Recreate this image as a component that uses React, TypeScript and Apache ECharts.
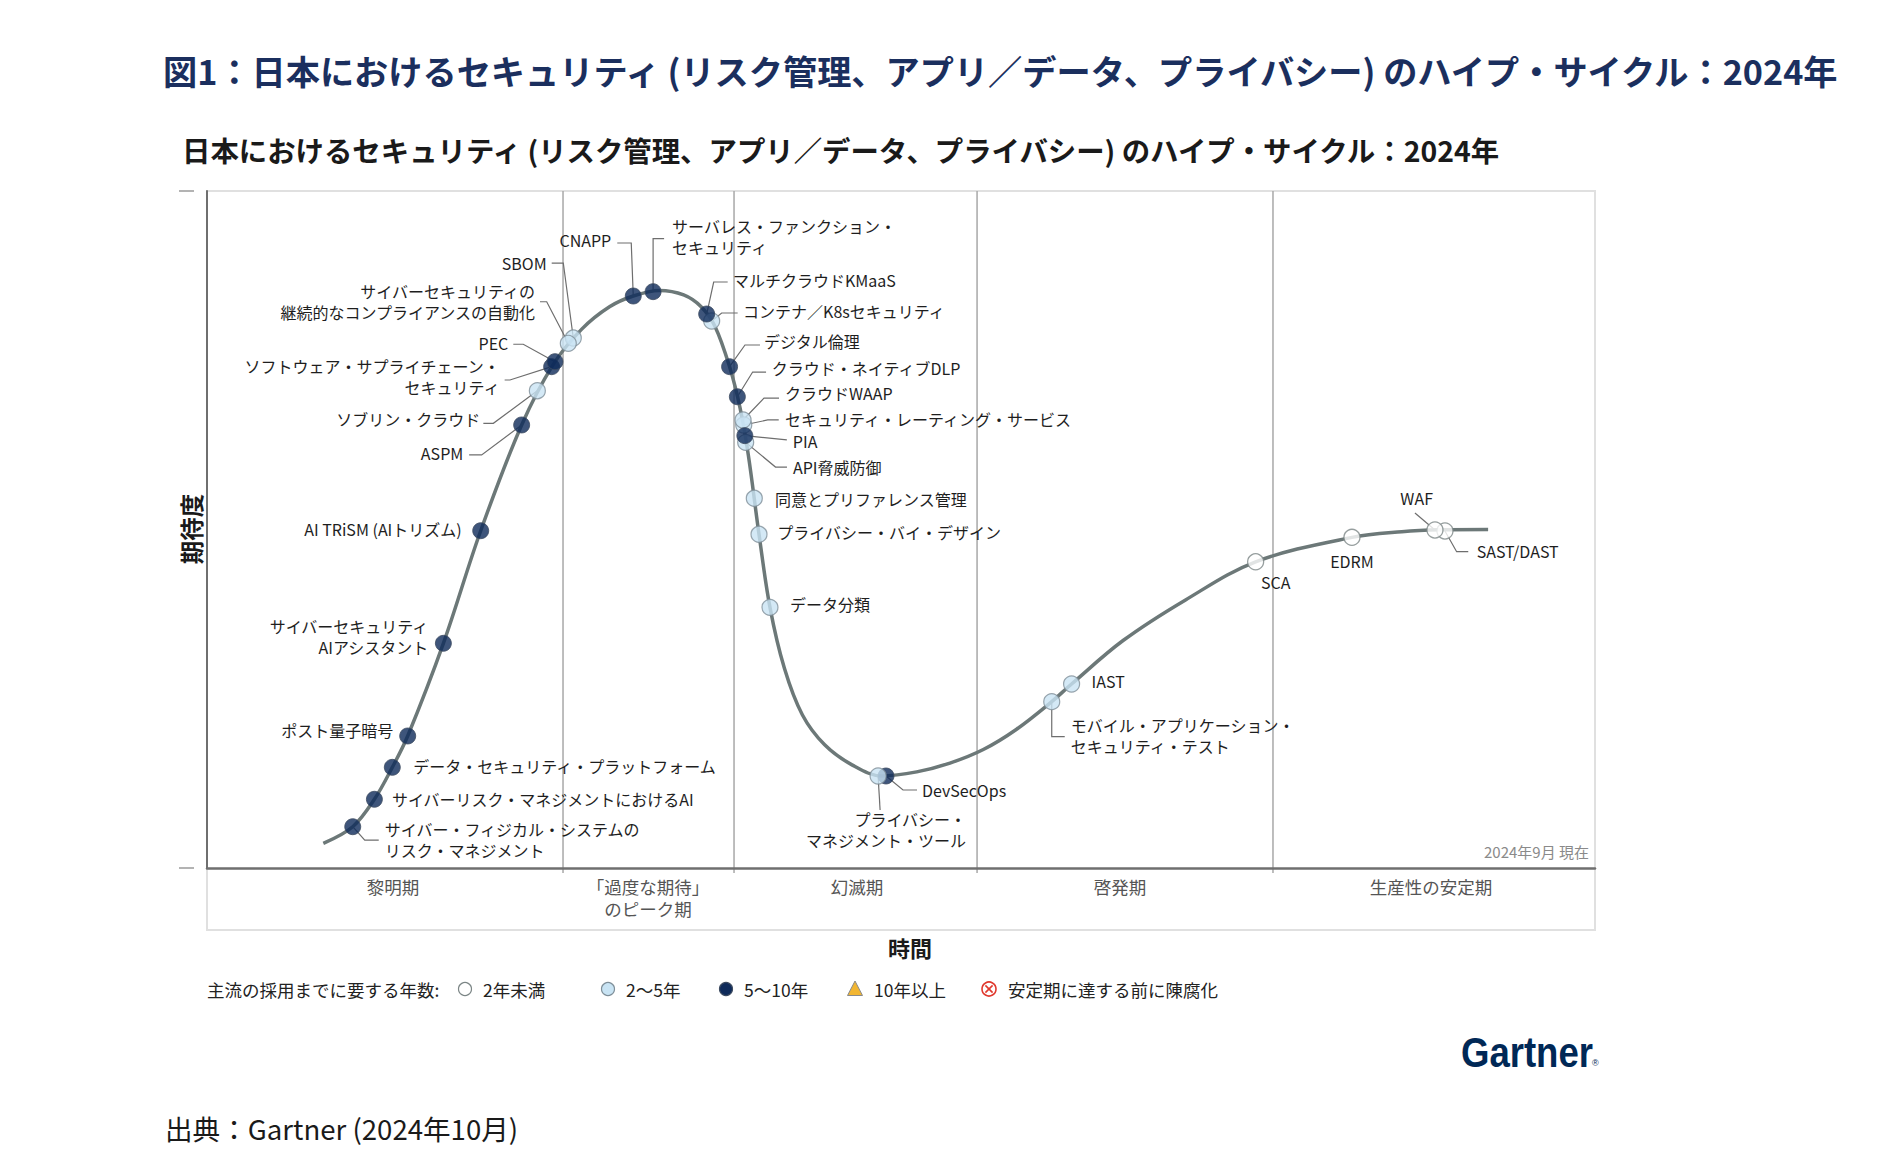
import React, { useEffect, useRef } from "react";
import * as echarts from "echarts";

const FONT = '"Noto Sans CJK JP", "Noto Sans", sans-serif';

// ---- Data ----
const titleOuter = "図1：日本におけるセキュリティ (リスク管理、アプリ／データ、プライバシー) のハイプ・サイクル：2024年";
const titleInner = "日本におけるセキュリティ (リスク管理、アプリ／データ、プライバシー) のハイプ・サイクル：2024年";

// Hype-cycle curve (time %, expectations %)
const curveX = [8.38, 10.5, 12.06, 13.35, 14.46, 17.03, 19.72, 22.67, 24.95, 27.0, 29.0, 30.71, 32.6, 34.34, 35.6, 36.6, 37.65, 38.4, 39.0, 39.77, 40.56, 41.6, 42.9, 44.5, 46.5, 48.6, 51.13, 53.53, 55.93, 58.33, 60.86, 62.29, 66.0, 70.5, 75.55, 82.49, 86.08, 88.8, 92.3];
const curveY = [3.64, 6.1, 10.15, 14.87, 19.5, 33.19, 49.82, 65.44, 74.4, 79.6, 82.9, 84.49, 85.3, 84.64, 82.9, 80.0, 74.05, 68.0, 61.0, 49.29, 38.5, 29.5, 22.6, 18.2, 15.2, 13.6, 14.2, 15.5, 17.5, 20.5, 24.57, 27.18, 33.6, 39.6, 45.23, 48.84, 49.68, 49.95, 50.0];

const techNames = [
  "サイバー・フィジカル・システムの\nリスク・マネジメント",
  "サイバーリスク・マネジメントにおけるAI",
  "データ・セキュリティ・プラットフォーム",
  "ポスト量子暗号",
  "サイバーセキュリティ\nAIアシスタント",
  "AI TRiSM (AIトリズム)",
  "ASPM",
  "ソブリン・クラウド",
  "ソフトウェア・サプライチェーン・\nセキュリティ",
  "PEC",
  "SBOM",
  "サイバーセキュリティの\n継続的なコンプライアンスの自動化",
  "CNAPP",
  "サーバレス・ファンクション・\nセキュリティ",
  "コンテナ／K8sセキュリティ",
  "マルチクラウドKMaaS",
  "デジタル倫理",
  "クラウド・ネイティブDLP",
  "API脅威防御",
  "セキュリティ・レーティング・サービス",
  "クラウドWAAP",
  "PIA",
  "同意とプリファレンス管理",
  "プライバシー・バイ・デザイン",
  "データ分類",
  "DevSecOps",
  "プライバシー・\nマネジメント・ツール",
  "モバイル・アプリケーション・\nセキュリティ・テスト",
  "IAST",
  "SCA",
  "EDRM",
  "SAST/DAST",
  "WAF",
];
const techX = [10.5, 12.06, 13.35, 14.46, 17.03, 19.72, 22.67, 23.8, 24.83, 25.07, 26.39, 26.03, 30.71, 32.14, 36.36, 36.0, 37.65, 38.21, 38.81, 38.67, 38.62, 38.75, 39.43, 39.77, 40.56, 48.92, 48.35, 60.86, 62.29, 75.55, 82.49, 89.19, 88.47];
const techY = [6.1, 10.15, 14.87, 19.5, 33.19, 49.82, 65.44, 70.5, 74.05, 74.79, 78.28, 77.5, 84.49, 85.13, 80.8, 81.83, 74.05, 69.61, 62.87, 65.44, 66.17, 63.86, 54.61, 49.29, 38.5, 13.59, 13.59, 24.57, 27.18, 45.23, 48.84, 49.78, 49.93];
// years to mainstream adoption: 0 = <2y, 1 = 2-5y, 2 = 5-10y
const techYears = [2, 2, 2, 2, 2, 2, 2, 1, 2, 2, 1, 1, 2, 2, 1, 2, 2, 2, 1, 1, 1, 2, 1, 1, 1, 2, 1, 1, 1, 0, 0, 0, 0];

const phaseNames = ["黎明期", "「過度な期待」\nのピーク期", "幻滅期", "啓発期", "生産性の安定期"];
const phaseCenters = [13.4, 31.77, 46.83, 65.78, 88.18];
const phaseBounds = [25.65, 37.97, 55.48, 76.8];

const legendTitle = "主流の採用までに要する年数:";
const legendLabels = ["2年未満", "2〜5年", "5〜10年", "10年以上", "安定期に達する前に陳腐化"];

// ---- Layout / styles ----
type Lay = { dx: number; dy: number; align: string; leader?: number[][] };
const labelLayout: Lay[] = [
  { dx: 32, dy: 12.5, align: "left", leader: [[0, 0], [12, 13.5], [26, 13.5]] },
  { dx: 17.5, dy: 0, align: "left" },
  { dx: 21, dy: -1, align: "left" },
  { dx: -14.5, dy: -6, align: "right" },
  { dx: -15, dy: -6.6, align: "right" },
  { dx: -19, dy: -1.4, align: "right" },
  { dx: -58.4, dy: 28.3, align: "right", leader: [[0, 0], [-40, 30], [-52.5, 30]] },
  { dx: -57, dy: 28.6, align: "right", leader: [[0, 0], [-44, 32.6], [-54, 32.6]] },
  { dx: -52, dy: 9.8, align: "right", leader: [[0, 0], [-41.7, 13.3], [-47, 13.3]] },
  { dx: -46.7, dy: -18.4, align: "right", leader: [[0, 0], [-31.7, -17.4], [-41.7, -17.4]] },
  { dx: -26.6, dy: -75, align: "right", leader: [[0, 0], [-10, -75], [-21.6, -75]] },
  { dx: -33.3, dy: -41.9, align: "right", leader: [[0, 0], [-21.6, -41.6], [-28.3, -41.6]] },
  { dx: -22, dy: -56.5, align: "right", leader: [[0, 0], [-2, -53], [-16, -53]] },
  { dx: 19, dy: -55, align: "left", leader: [[0, 0], [0, -53], [11, -53]] },
  { dx: 31.4, dy: -10, align: "left", leader: [[0, 0], [10, -8], [26, -8]] },
  { dx: 26.3, dy: -34, align: "left", leader: [[0, 0], [7, -32], [21, -32]] },
  { dx: 34.4, dy: -25.7, align: "left", leader: [[0, 0], [15.4, -21.7], [30.4, -21.7]] },
  { dx: 34.4, dy: -28.7, align: "left", leader: [[0, 0], [15.3, -24.7], [28.7, -24.7]] },
  { dx: 47.3, dy: 24.2, align: "left", leader: [[0, 0], [29.8, 24.7], [41.3, 24.7]] },
  { dx: 41.2, dy: -6.2, align: "left", leader: [[0, 0], [24, -5], [35, -5]] },
  { dx: 42, dy: -27.5, align: "left", leader: [[0, 0], [21, -22], [36, -22]] },
  { dx: 48, dy: 5.3, align: "left", leader: [[0, 0], [42, 4.3]] },
  { dx: 20.7, dy: 1, align: "left" },
  { dx: 18.3, dy: -2.6, align: "left" },
  { dx: 20, dy: -3.3, align: "left" },
  { dx: 36, dy: 14, align: "left", leader: [[0, 0], [17, 14], [31, 14]] },
  { dx: 88, dy: 54, align: "right", leader: [[0, 0], [2, 34]] },
  { dx: 19, dy: 34, align: "left", leader: [[0, 0], [0, 35], [13, 35]] },
  { dx: 20, dy: -3, align: "left" },
  { dx: 20, dy: 20.3, align: "center" },
  { dx: 0, dy: 24, align: "center" },
  { dx: 31.7, dy: 20, align: "left", leader: [[0, 0], [11.7, 20.7], [23.3, 20.7]] },
  { dx: -18.3, dy: -31.7, align: "center", leader: [[0, 0], [-20, -17]] },
];

const dotStyles = [
  { color: "#ffffff", borderColor: "#7c8686", borderWidth: 1.3 },
  { color: "#c9e4f4", borderColor: "#7f8f99", borderWidth: 1.2 },
  { color: "#0e2a5a", borderColor: "#3d4b60", borderWidth: 1 },
];

const G_LEFT = 207, G_TOP = 191, G_W = 1388, G_H = 677;

function legendGraphics(): any[] {
  const y = 989;
  const els: any[] = [];
  const txt = (x: number, t: string) => ({
    type: "text", x, y, z: 10,
    style: { text: t, fill: "#222", fontSize: 17.5, fontFamily: FONT, verticalAlign: "middle", align: "left" },
  });
  els.push(txt(207, legendTitle));
  const sx = [465, 608, 726, 855, 989];
  const tx = [483, 626, 744, 874, 1008];
  for (let k = 0; k < 3; k++) {
    els.push({
      type: "circle", shape: { cx: sx[k], cy: y, r: 6.5 }, z: 10,
      style: { fill: dotStyles[k].color, stroke: dotStyles[k].borderColor, lineWidth: 1.2 },
    });
  }
  els.push({
    type: "polygon", z: 10,
    shape: { points: [[sx[3], y - 8], [sx[3] + 7.5, y + 6.5], [sx[3] - 7.5, y + 6.5]] },
    style: { fill: "#f2b632", stroke: "#8a8a8a", lineWidth: 1 },
  });
  els.push({ type: "circle", shape: { cx: sx[4], cy: y, r: 7 }, z: 10, style: { fill: "#fff", stroke: "#e0392e", lineWidth: 1.6 } });
  els.push({ type: "line", shape: { x1: sx[4] - 3.6, y1: y - 3.6, x2: sx[4] + 3.6, y2: y + 3.6 }, z: 10, style: { stroke: "#e0392e", lineWidth: 1.6 } });
  els.push({ type: "line", shape: { x1: sx[4] - 3.6, y1: y + 3.6, x2: sx[4] + 3.6, y2: y - 3.6 }, z: 10, style: { stroke: "#e0392e", lineWidth: 1.6 } });
  legendLabels.forEach((l, k) => els.push(txt(tx[k], l)));
  return els;
}

export default function App() {
  const ref = useRef<HTMLDivElement>(null);
  useEffect(() => {
    document.body.style.margin = "0";
    const chart = echarts.init(ref.current!, null, { renderer: "svg" });
    const option: any = {
      animation: false,
      backgroundColor: "#ffffff",
      textStyle: { fontFamily: FONT },
      grid: { left: G_LEFT, top: G_TOP, width: G_W, height: G_H, show: false },
      xAxis: {
        type: "value", min: 0, max: 100, z: 5,
        axisLine: { show: true, lineStyle: { color: "#6f6f6f", width: 2.5 } },
        axisTick: { show: false }, axisLabel: { show: false }, splitLine: { show: false },
      },
      yAxis: {
        type: "value", min: 0, max: 100, z: 5,
        axisLine: { show: true, lineStyle: { color: "#6f6f6f", width: 2 } },
        axisTick: { show: false }, axisLabel: { show: false }, splitLine: { show: false },
      },
      graphic: [
        { type: "rect", z: 0, shape: { x: G_LEFT, y: G_TOP, width: G_W, height: 739 }, style: { fill: "none", stroke: "#e0e0e0", lineWidth: 2 } },
        { type: "line", z: 1, shape: { x1: 179, y1: G_TOP, x2: 194, y2: G_TOP }, style: { stroke: "#9a9a9a", lineWidth: 1.5 } },
        { type: "line", z: 1, shape: { x1: 179, y1: G_TOP + G_H, x2: 194, y2: G_TOP + G_H }, style: { stroke: "#9a9a9a", lineWidth: 1.5 } },
        { type: "text", x: 163, y: 70, z: 10, style: { text: titleOuter, fill: "#1b2f5e", fontSize: 34.2, fontWeight: "bold", fontFamily: FONT, verticalAlign: "middle" } },
        { type: "text", x: 182, y: 149, z: 10, style: { text: titleInner, fill: "#1a1a1a", fontSize: 28.4, fontWeight: "bold", fontFamily: FONT, verticalAlign: "middle" } },
        { type: "text", x: 191, y: 529, rotation: Math.PI / 2, z: 10, style: { text: "期待度", fill: "#1a1a1a", fontSize: 23.5, fontWeight: "bold", fontFamily: FONT, align: "center", verticalAlign: "middle" } },
        { type: "text", x: 910, y: 947, z: 10, style: { text: "時間", fill: "#1a1a1a", fontSize: 22, fontWeight: "bold", fontFamily: FONT, align: "center", verticalAlign: "middle" } },
        { type: "text", x: 1589, y: 851, z: 10, style: { text: "2024年9月 現在", fill: "#8a8a8a", fontSize: 15, fontFamily: FONT, align: "right", verticalAlign: "middle" } },
        { type: "text", x: 1461, y: 1052, scaleX: 0.87, z: 10, style: { text: "Gartner", fill: "#002856", fontSize: 42, fontWeight: "bold", fontFamily: '"Liberation Sans", Arial, sans-serif', verticalAlign: "middle" } },
        { type: "text", x: 1592, y: 1063, z: 10, style: { text: "®", fill: "#002856", fontSize: 9, fontFamily: '"Liberation Sans", Arial, sans-serif', verticalAlign: "middle" } },
        { type: "text", x: 165, y: 1128, z: 10, style: { text: "出典：Gartner (2024年10月)", fill: "#1a1a1a", fontSize: 27.6, fontFamily: FONT, verticalAlign: "middle" } },
        ...legendGraphics(),
      ],
      series: [
        {
          type: "custom",
          name: "phaseLines",
          coordinateSystem: "cartesian2d",
          z: 1,
          clip: false,
          silent: true,
          data: phaseBounds.map((v) => [v, 0]),
          renderItem: (params: any, api: any) => {
            const top = api.coord([api.value(0), 100]);
            const bot = api.coord([api.value(0), 0]);
            return {
              type: "line",
              shape: { x1: top[0], y1: top[1], x2: bot[0], y2: bot[1] + 5 },
              style: { stroke: "#a8a8a8", lineWidth: 1.5 },
            };
          },
        },
        {
          type: "custom",
          name: "labels",
          coordinateSystem: "cartesian2d",
          z: 1,
          clip: false,
          silent: true,
          data: techX.map((x, i) => [x, techY[i]]),
          renderItem: (params: any, api: any) => {
            const i = params.dataIndex;
            const p = api.coord([api.value(0), api.value(1)]);
            const L = labelLayout[i];
            const children: any[] = [];
            if (L.leader) {
              children.push({
                type: "polyline",
                shape: { points: L.leader.map(([a, b]) => [p[0] + a, p[1] + b]) },
                style: { stroke: "#6e6e6e", lineWidth: 1.2, fill: "none" },
              });
            }
            children.push({
              type: "text",
              x: p[0] + L.dx,
              y: p[1] + L.dy,
              style: {
                text: techNames[i], fill: "#1e1e1e", fontSize: 16, fontFamily: FONT,
                align: L.align, verticalAlign: "middle", lineHeight: 21,
              },
            });
            return { type: "group", children };
          },
        },
        {
          type: "custom",
          name: "phases",
          coordinateSystem: "cartesian2d",
          z: 1,
          clip: false,
          silent: true,
          data: phaseCenters.map((x) => [x, 0]),
          renderItem: (params: any, api: any) => {
            const i = params.dataIndex;
            const p = api.coord([api.value(0), api.value(1)]);
            return {
              type: "text",
              x: p[0],
              y: p[1] + 7,
              style: {
                text: phaseNames[i], fill: "#555555", fontSize: 17.5, fontFamily: FONT,
                align: "center", verticalAlign: "top", lineHeight: 22,
              },
            };
          },
        },
        {
          type: "line",
          name: "curve",
          z: 2,
          data: curveX.map((x, i) => [x, curveY[i]]),
          smooth: 0.35,
          symbol: "none",
          silent: true,
          lineStyle: { color: "#6c7878", width: 3.5 },
        },
        {
          type: "scatter",
          name: "tech",
          z: 3,
          symbol: "circle",
          symbolSize: 16,
          silent: true,
          data: techX.map((x, i) => ({ value: [x, techY[i]], itemStyle: dotStyles[techYears[i]] })),
        },
      ],
    };
    chart.setOption(option);
    return () => chart.dispose();
  }, []);
  return <div ref={ref} style={{ width: 1898, height: 1172, background: "#fff" }} />;
}
